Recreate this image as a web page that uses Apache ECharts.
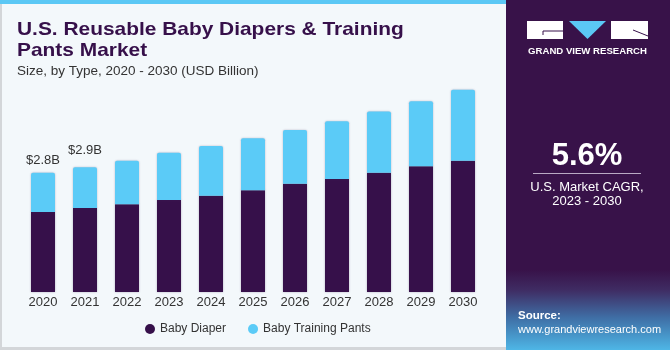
<!DOCTYPE html>
<html><head><meta charset="utf-8">
<script src="https://cdn.jsdelivr.net/npm/echarts@6/dist/echarts.min.js"></script>
<style>html,body{margin:0;padding:0;background:#F3F8FB;}#c{width:670px;height:350px;}</style>
</head><body><div id="c"></div>
<script>
const years = ['2020','2021','2022','2023','2024','2025','2026','2027','2028','2029','2030'];
const babyDiaper = [1.88,1.97,2.06,2.16,2.26,2.39,2.54,2.65,2.80,2.95,3.08];
const babyTrainingPants = [0.92,0.96,1.02,1.11,1.17,1.22,1.26,1.36,1.44,1.53,1.67];
const barLabels = ['$2.8B','$2.9B','','','','','','','','',''];
const labelGaps = [6,10,0,0,0,0,0,0,0,0,0];

const DARK = '#36104A', LIGHT = '#5BCBF7';
const chart = echarts.init(document.getElementById('c'), null, {renderer:'canvas'});
const pantsData = babyTrainingPants.map((v,i)=>({
  value:v,
  label:{show: !!barLabels[i], formatter: barLabels[i], distance: labelGaps[i]}
}));
const shadow = {shadowColor:'rgba(60,40,90,0.35)',shadowBlur:2};
chart.setOption({
  backgroundColor:'#F3F8FB',
  animation:false,
  grid:{left:22,right:186,top:79,bottom:58},
  xAxis:{type:'category',data:years,axisLine:{show:false},axisTick:{show:false},
    axisLabel:{color:'#333',fontSize:13,fontFamily:'Liberation Sans',margin:4}},
  yAxis:{type:'value',min:0,max:5,show:false,splitLine:{show:false}},
  legend:{left:140,top:318,itemWidth:10,itemHeight:10,itemGap:22,icon:'circle',
    textStyle:{color:'#333',fontSize:12,fontFamily:'Liberation Sans'},
    data:['Baby Diaper','Baby Training Pants']},
  series:[
    {name:'Baby Diaper',type:'bar',stack:'t',barWidth:24,data:babyDiaper,
     itemStyle:Object.assign({color:DARK},shadow)},
    {name:'Baby Training Pants',type:'bar',stack:'t',barWidth:24,data:pantsData,
     itemStyle:Object.assign({color:LIGHT,borderRadius:[2,2,0,0]},shadow),
     label:{position:'top',color:'#333',fontSize:13,fontFamily:'Liberation Sans'}}
  ],
  graphic:[
    {type:'rect',shape:{x:0,y:0,width:2,height:350},style:{fill:'#D3D6D9'},silent:true},
    {type:'rect',shape:{x:0,y:347,width:506,height:3},style:{fill:'#D3D6D9'},silent:true},
    {type:'rect',shape:{x:0,y:0,width:506,height:4},style:{fill:'#5BC8F5'},silent:true},
    {type:'rect',shape:{x:506,y:0,width:164,height:350},style:{fill:'#381249'},silent:true},
    {type:'rect',shape:{x:506,y:270,width:164,height:80},silent:true,
      style:{fill:{type:'linear',x:0,y:0,x2:0,y2:1,colorStops:[
        {offset:0,color:'#381249'},{offset:0.25,color:'#3F2C63'},{offset:0.6,color:'#3F6FA6'},{offset:1,color:'#4EB6E6'}]}}},
    {type:'text',x:17,y:19,scaleX:1.1,style:{text:'U.S. Reusable Baby Diapers & Training\nPants Market',
      fill:'#36104A',font:'bold 19px "Liberation Sans"',lineHeight:21,verticalAlign:'top'}},
    {type:'text',x:17,y:64,style:{text:'Size, by Type, 2020 - 2030 (USD Billion)',
      fill:'#333',font:'13.5px "Liberation Sans"',verticalAlign:'top'}},
    // logo
    {type:'rect',shape:{x:527,y:21,width:36,height:18},style:{fill:'#fff'},silent:true},
    {type:'polyline',shape:{points:[[543,35],[543,31],[563,31]]},style:{stroke:'#36104A',lineWidth:1,fill:null},silent:true},
    {type:'polygon',shape:{points:[[569,21],[606,21],[587.5,39]]},style:{fill:'#5BC8F5'},silent:true},
    {type:'rect',shape:{x:611,y:21,width:37,height:18},style:{fill:'#fff'},silent:true},
    {type:'line',shape:{x1:633,y1:30,x2:648,y2:36},style:{stroke:'#36104A',lineWidth:1},silent:true},
    {type:'text',x:587.5,y:51,style:{text:'GRAND VIEW RESEARCH',fill:'#fff',font:'bold 9.6px "Liberation Sans"',
      align:'center',verticalAlign:'middle'}},
    // CAGR
    {type:'text',x:587,y:156,style:{text:'5.6%',fill:'#fff',font:'bold 31px "Liberation Sans"',align:'center',verticalAlign:'middle'}},
    {type:'rect',shape:{x:533,y:173,width:108,height:1},style:{fill:'#B9A9C4'},silent:true},
    {type:'text',x:587,y:187,style:{text:'U.S. Market CAGR,',fill:'#fff',font:'13px "Liberation Sans"',align:'center',verticalAlign:'middle'}},
    {type:'text',x:587,y:201,style:{text:'2023 - 2030',fill:'#fff',font:'13px "Liberation Sans"',align:'center',verticalAlign:'middle'}},
    {type:'text',x:518,y:316,style:{text:'Source:',fill:'#fff',font:'bold 11.5px "Liberation Sans"',verticalAlign:'middle'}},
    {type:'text',x:518,y:330,style:{text:'www.grandviewresearch.com',fill:'#fff',font:'11px "Liberation Sans"',verticalAlign:'middle'}}
  ]
});
</script></body></html>
